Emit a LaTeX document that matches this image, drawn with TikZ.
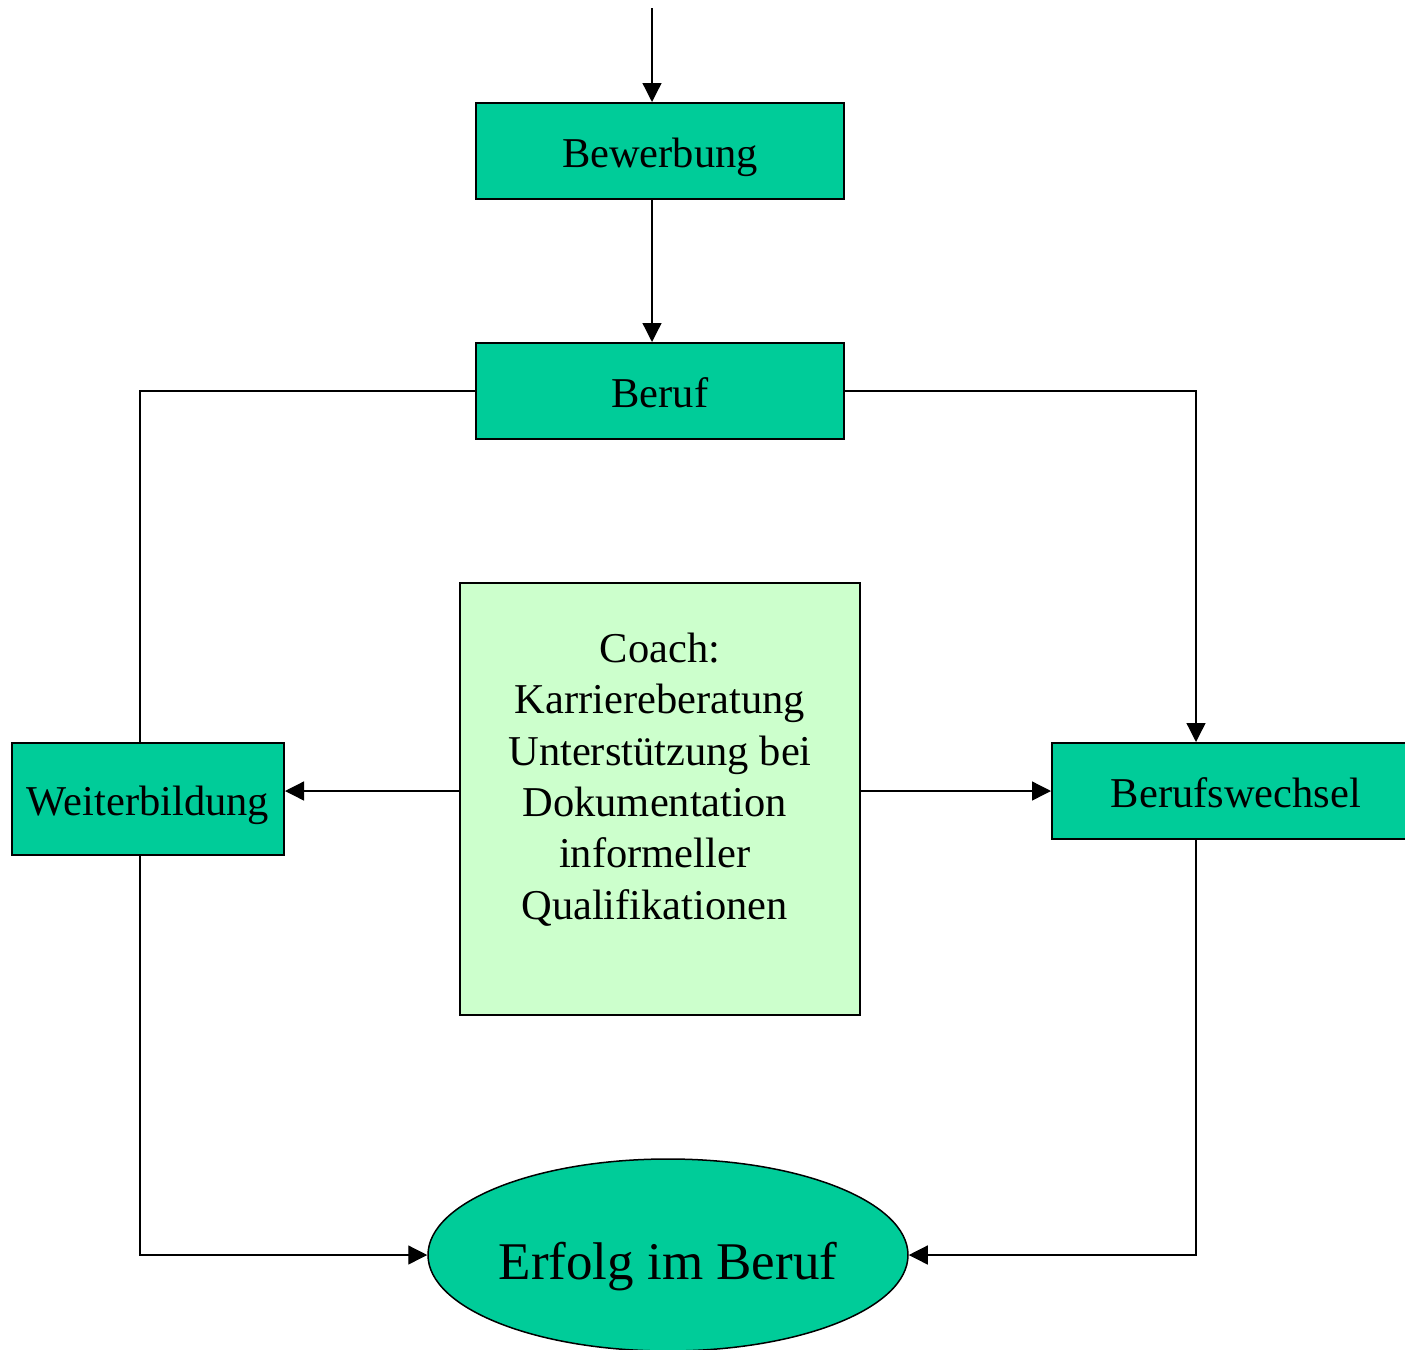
\documentclass[tikz,border=0pt]{standalone}
\usepackage{fontspec}
\setmainfont{Liberation Serif}
\usetikzlibrary{shapes.geometric,arrows.meta}
\definecolor{tealfill}{HTML}{00CC99}
\definecolor{palefill}{HTML}{CCFFCC}
\newcommand{\trailsp}{\rule{10.6pt}{0pt}}
\begin{document}
\begin{tikzpicture}[x=1pt,y=-1pt,
  box/.style={draw, line width=2pt, fill=tealfill, minimum width=368pt, minimum height=96pt,
    inner sep=0pt, font=\fontsize{42.5}{51.4}\selectfont, text height=32pt, text depth=0pt},
  conn/.style={line width=1.3pt},
  arr/.style={conn, -{Triangle[length=19pt,width=19pt]}}]
\useasboundingbox (0,0) rectangle (1405,1349);
\clip (0,0) rectangle (1405,1349);
\node[box] (bew) at (660,151) {Bewerbung};
\node[box] (beruf) at (660,391) {Beruf};
\node[box, minimum width=272pt, minimum height=112pt] (wb) at (148,799) {Weiterbildung};
\node[box] (bw) at (1236,791) {Berufswechsel};
\node[draw, line width=2pt, fill=palefill, minimum width=400pt, minimum height=432pt, inner sep=0pt] (coach) at (660,799) {};
\node[align=center, inner sep=0pt, font=\fontsize{42.5}{51.4}\selectfont] (coachtext) at (660,779.5)
  {Coach:\\Karriereberatung\\Unterstützung bei\\Dokumentation\trailsp\\informeller\trailsp\\Qualifikationen\trailsp};
\node[ellipse, draw, line width=1.5pt, fill=tealfill, minimum width=480pt, minimum height=192pt,
  inner sep=0pt, font=\fontsize{53}{60}\selectfont, text height=49pt, text depth=0pt] (erfolg) at (668,1255) {Erfolg im Beruf};
\coordinate (top) at (652,8);
\coordinate (wbx) at (140,0);
\coordinate (bwx) at (1196,0);
\draw[arr] (top) -- (top |- bew.north);
\draw[arr] (top |- bew.south) -- (top |- beruf.north);
\draw[conn] (beruf.west) -| (wbx |- wb.north);
\draw[arr] (beruf.east) -| (bwx |- bw.north);
\draw[arr] (coach.west |- bw.west) -- (wb.east |- bw.west);
\draw[arr] (coach.east |- bw.west) -- (bw.west);
\draw[arr] (wbx |- wb.south) |- (erfolg.west);
\draw[arr] (bwx |- bw.south) |- (erfolg.east);
\end{tikzpicture}
\end{document}
